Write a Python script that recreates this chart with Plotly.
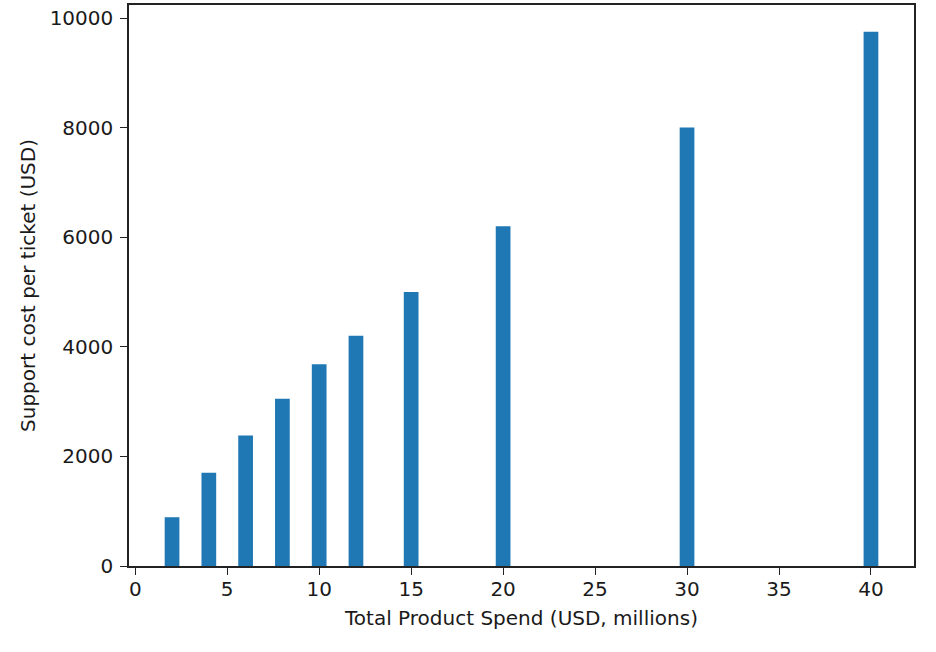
import plotly.graph_objects as go

spend = [2, 4, 6, 8, 10, 12, 15, 20, 30, 40]
cost = [890, 1700, 2380, 3050, 3680, 4200, 5000, 6200, 8000, 9750]
x_ticks = [0, 5, 10, 15, 20, 25, 30, 35, 40]
y_ticks = [0, 2000, 4000, 6000, 8000, 10000]
x_title = "Total Product Spend (USD, millions)"
y_title = "Support cost per ticket (USD)"

bar_w = 0.8
x_lo = min(spend) - bar_w / 2
x_hi = max(spend) + bar_w / 2
pad = 0.05 * (x_hi - x_lo)

fig = go.Figure(go.Bar(x=spend, y=cost, width=bar_w, marker=dict(color="#1f77b4", line=dict(width=0))))

font = dict(family="DejaVu Sans", size=20, color="#1a1a1a")
fig.update_layout(
    width=936, height=652,
    margin=dict(l=129, r=22, t=5, b=86),
    paper_bgcolor="white", plot_bgcolor="white",
    font=font, showlegend=False,
)
fig.update_xaxes(
    range=[x_lo - pad, x_hi + pad], tickvals=x_ticks, ticktext=[str(v) for v in x_ticks],
    ticks="outside", ticklen=7, tickwidth=1.3, automargin=False,
    tickcolor="#222", showline=True, linecolor="#222", linewidth=1.5, mirror=True,
    showgrid=False, zeroline=False, ticklabelstandoff=-3,
    title=dict(text=x_title, standoff=11, font=font),
)
fig.update_yaxes(
    range=[0, max(cost) * 1.05], tickvals=y_ticks, ticktext=[str(v) for v in y_ticks],
    ticks="outside", ticklen=7, tickwidth=1.3, automargin=False,
    tickcolor="#222", showline=True, linecolor="#222", linewidth=1.5, mirror=True,
    showgrid=False, zeroline=False, ticklabelstandoff=3,
    title=dict(text=y_title, standoff=9, font=font),
)
fig.write_html("out.html", config={"displayModeBar": False},
               post_script="document.body.style.margin='0';document.body.style.overflow='hidden';")
